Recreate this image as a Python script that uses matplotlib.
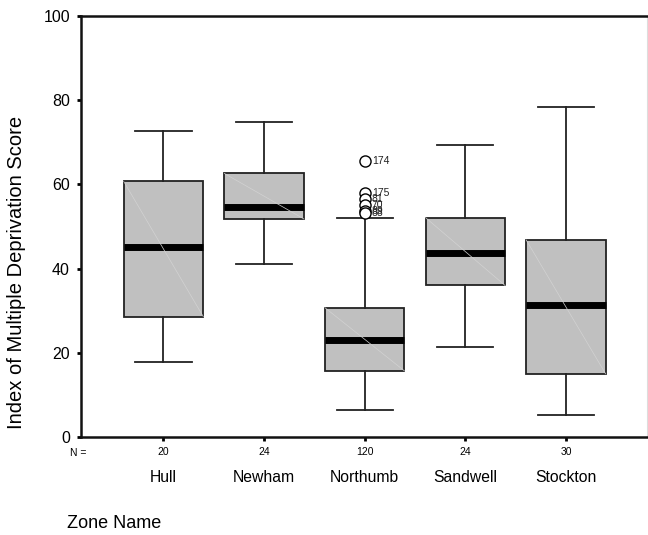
import matplotlib
matplotlib.use("Agg")
import matplotlib.pyplot as plt
from matplotlib.transforms import blended_transform_factory

plt.rcParams['font.family'] = ['Liberation Sans', 'DejaVu Sans']

zones = ["Hull", "Newham", "Northumb", "Sandwell", "Stockton"]
counts = [20, 24, 120, 24, 30]
whisk_lo = [17.8, 41.2, 6.3, 21.3, 5.2]
q1 = [28.6, 51.8, 15.7, 36.0, 15.0]
med = [45.1, 54.6, 23.0, 43.7, 31.4]
q3 = [60.7, 62.6, 30.7, 52.1, 46.8]
whisk_hi = [72.8, 74.9, 52.1, 69.4, 78.5]
# outliers of Northumb with case labels
out_vals = [65.6, 57.9, 56.5, 55.0, 53.6, 53.3]
out_ids = ["174", "175", "81", "70", "89", "88"]
out_zone = 3

yticks = [0, 20, 40, 60, 80, 100]

fig = plt.figure(figsize=(6.48, 5.35), dpi=100)
ax = fig.add_axes([81/648, (535-437)/535, (647-81)/648, (437-16)/535])

positions = list(range(1, len(zones) + 1))
stats = []
for i, z in enumerate(zones):
    stats.append(dict(label=z, whislo=whisk_lo[i], q1=q1[i], med=med[i],
                      q3=q3[i], whishi=whisk_hi[i],
                      fliers=out_vals if i + 1 == out_zone else []))

bw = 0.79
ax.bxp(stats, positions=positions, widths=bw, capwidths=0.56,
       patch_artist=True, showfliers=True,
       boxprops=dict(facecolor="#c0c0c0", edgecolor="#222222", linewidth=1.3),
       medianprops=dict(color="black", linewidth=5.0, solid_capstyle="butt"),
       whiskerprops=dict(color="#222222", linewidth=1.3),
       capprops=dict(color="#222222", linewidth=1.3),
       flierprops=dict(marker="o", markersize=8, markerfacecolor="white",
                       markeredgecolor="black", markeredgewidth=1.0),
       zorder=3)

# faint diagonal artifact in boxes
for i, p in enumerate(positions):
    ax.plot([p - bw/2, p + bw/2], [q3[i], q1[i]], color="#d2d2d2",
            linewidth=0.5, zorder=4)

# outlier case labels
for v, lab in zip(out_vals, out_ids):
    ax.text(out_zone + 0.07, v, lab, fontsize=7.5, va="center", ha="left",
            color="#222222", zorder=5)

ax.set_xlim(0.18, 5.806)
ax.set_ylim(0, 100)
ax.set_yticks(yticks)
ax.set_yticklabels([str(t) for t in yticks], fontsize=11.5)
ax.set_xticks(positions)
ax.set_xticklabels([str(c) for c in counts], fontsize=7.5)
ax.tick_params(axis="both", direction="out", length=3, width=2, color="black")
ax.tick_params(axis="x", pad=4)
ax.tick_params(axis="y", pad=5)

for s in ["left", "bottom", "top"]:
    ax.spines[s].set_linewidth(1.8)
    ax.spines[s].set_color("#111111")
ax.spines["right"].set_linewidth(0.8)
ax.spines["right"].set_color("#dddddd")

tr = blended_transform_factory(ax.transData, fig.transFigure)
for p, z in zip(positions, zones):
    ax.text(p, (535-478)/535, z, transform=tr, ha="center", va="center",
            fontsize=11.3)
fig.text(78/648, (535-453)/535, "N =", ha="center", va="center", fontsize=7.5)

fig.text(17/648, (535-272)/535, "Index of Multiple Deprivation Score",
         rotation=90, ha="center", va="center", fontsize=14.5)
fig.text(67/648, (535-524)/535, "Zone Name", ha="left", va="center",
         fontsize=13)

fig.savefig("out.png", dpi=100)
